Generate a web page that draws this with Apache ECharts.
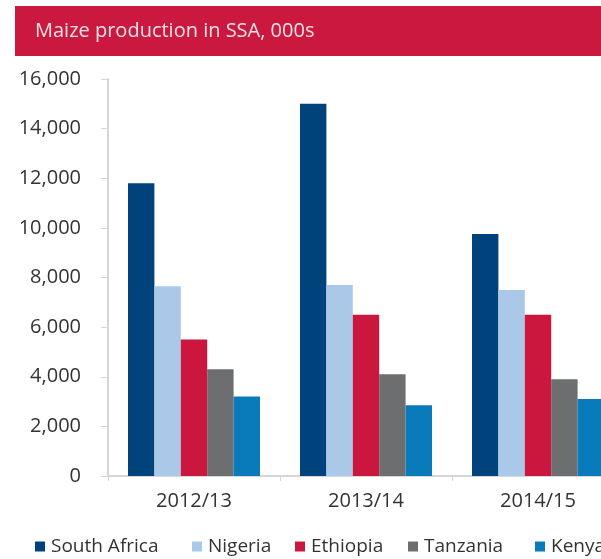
<!DOCTYPE html>
<html>
<head>
<meta charset="utf-8">
<script src="https://cdn.jsdelivr.net/npm/echarts@6/dist/echarts.min.js"></script>
<style>
  html, body { margin: 0; padding: 0; background: #fff; }
  #chart { width: 601px; height: 559px; }
</style>
</head>
<body>
<div id="chart"></div>
<script>
  var titleText = 'Maize production in SSA, 000s';
  var years = ['2012/13', '2013/14', '2014/15'];
  var countries = ['South Africa', 'Nigeria', 'Ethiopia', 'Tanzania', 'Kenya'];
  var southAfrica = [11800, 15000, 9750];
  var nigeria = [7650, 7700, 7500];
  var ethiopia = [5500, 6500, 6500];
  var tanzania = [4300, 4100, 3900];
  var kenya = [3200, 2850, 3100];
  var yTicks = [0, 2000, 4000, 6000, 8000, 10000, 12000, 14000, 16000];

  var colors = ['#00427b', '#aac8e8', '#cb173e', '#6d6e70', '#0a7bba'];
  var legendLeft = [35, 192, 295, 408, 535];
  var font = '"Open Sans", Lato, sans-serif';

  var values = [southAfrica, nigeria, ethiopia, tanzania, kenya];

  var myChart = echarts.init(document.getElementById('chart'));

  // one legend per item so they sit where the original put them
  var legends = countries.map(function (name, i) {
    return {
      data: [name],
      left: legendLeft[i],
      top: 537,
      icon: 'rect',
      itemWidth: 10,
      itemHeight: 10,
      itemGap: 0,
      padding: 0,
      selectedMode: false,
      textStyle: { fontFamily: font, fontSize: 19, color: '#333', padding: [0, 0, 0, 1] }
    };
  });

  myChart.setOption({
    animation: false,
    color: colors,
    graphic: [
      {
        type: 'rect',
        shape: { x: 15, y: 6, width: 600, height: 50 },
        style: { fill: '#ca183e' },
        silent: true
      },
      {
        type: 'text',
        left: 35,
        top: 21,
        style: { text: titleText, fill: '#f6e3e7', font: '20px ' + font },
        silent: true
      }
    ],
    legend: legends,
    grid: {
      left: 108,
      width: 516,
      top: 79,
      bottom: 83,
      outerBoundsMode: 'none',
      containLabel: false
    },
    xAxis: {
      type: 'category',
      data: years,
      axisLine: { lineStyle: { color: '#d6d6d6', width: 2 } },
      axisTick: { show: true, length: 5, lineStyle: { color: '#d6d6d6', width: 1 } },
      axisLabel: { fontFamily: font, fontSize: 20, color: '#333', margin: 15 },
      splitLine: { show: false }
    },
    yAxis: {
      type: 'value',
      min: yTicks[0],
      max: yTicks[yTicks.length - 1],
      interval: yTicks[1] - yTicks[0],
      axisLine: { show: true, lineStyle: { color: '#d6d6d6', width: 2 } },
      axisTick: { show: true, length: 7, lineStyle: { color: '#d6d6d6', width: 1 } },
      axisLabel: {
        fontFamily: font,
        fontSize: 20,
        color: '#333',
        margin: 27,
        formatter: function (v) { return v.toLocaleString('en-US'); }
      },
      splitLine: { show: false }
    },
    series: countries.map(function (name, i) {
      return {
        name: name,
        type: 'bar',
        data: values[i],
        barWidth: 26.4,
        barGap: '0%',
        itemStyle: { color: colors[i] }
      };
    })
  });
</script>
</body>
</html>
